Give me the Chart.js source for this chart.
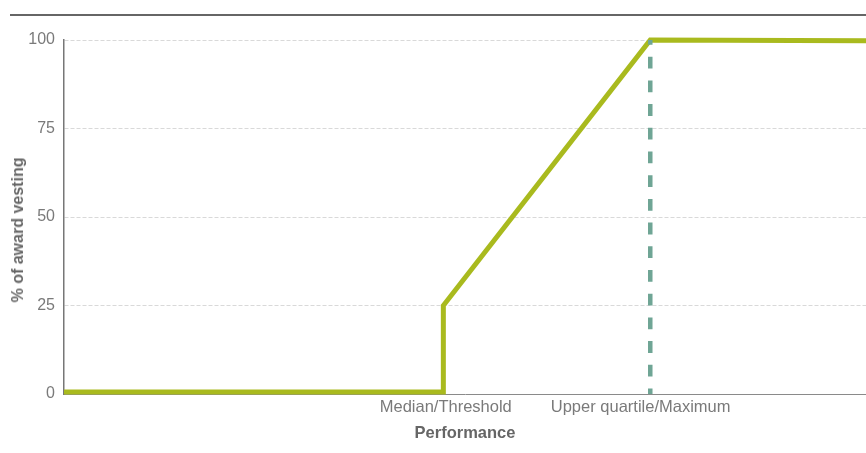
<!DOCTYPE html>
<html>
<head>
<meta charset="utf-8">
<script src="https://cdn.jsdelivr.net/npm/chart.js@4.4.1/dist/chart.umd.min.js"></script>
<style>
  html, body { margin: 0; padding: 0; background: #fff; }
  #wrap { position: relative; width: 866px; height: 453px; }
  #topRule { position: absolute; left: 10px; right: 0; top: 14px; height: 2px; background: #666; }
  #yTitle {
    position: absolute; left: 18px; top: 230px;
    transform: translate(-50%, -50%) rotate(-90deg);
    white-space: nowrap;
    font: bold 16px "Liberation Sans", Arial, sans-serif; color: #666;
  }
</style>
</head>
<body>
<div id="wrap">
  <div id="topRule"></div>
  <canvas id="vestingChart" width="866" height="453"></canvas>
  <div id="yTitle">% of award vesting</div>
</div>
<script>
// performance on a 0-100 scale (left edge to right edge of the plot)
const perfX = [0, 47.3, 47.3, 73.1, 100];
const vestingPct = [0.6, 0.6, 25, 100, 99.8];

const maxLineX = [73.1, 73.1];
const maxLineY = [100, 0];

const xTickValues = [47.6, 71.9];
const xTickLabels = ["Median/Threshold", "Upper quartile/Maximum"];
const yTicks = [0, 25, 50, 75, 100];

const font = "'Liberation Sans', Arial, sans-serif";

const vestingData = perfX.map((x, i) => ({ x: x, y: vestingPct[i] }));
const maxLineData = maxLineX.map((x, i) => ({ x: x, y: maxLineY[i] }));

new Chart(document.getElementById("vestingChart"), {
  type: "line",
  data: {
    datasets: [
      {
        label: "Upper quartile",
        data: maxLineData,
        borderColor: "#6fa595",
        borderWidth: 4.5,
        borderDash: [11.8, 11.9],
        borderDashOffset: 7,
        pointRadius: 0,
        clip: false,
      },
      {
        label: "Vesting",
        data: vestingData,
        borderColor: "#a9ba1e",
        borderWidth: 5,
        pointRadius: 0,
        tension: 0,
        clip: false,
      },
    ],
  },
  options: {
    responsive: false,
    animation: false,
    layout: { padding: { top: 40, right: 0, left: 0, bottom: 0 } },
    plugins: { legend: { display: false }, tooltip: { enabled: false } },
    scales: {
      x: {
        type: "linear",
        min: 0,
        max: 100,
        grid: { display: false, drawTicks: false },
        border: { display: true, color: "#8a8a8a", width: 1 },
        afterBuildTicks: (scale) => {
          scale.ticks = xTickValues.map((v) => ({ value: v }));
        },
        afterFit: (scale) => {
          scale.height = 59;
        },
        ticks: {
          autoSkip: false,
          maxRotation: 0,
          padding: 4,
          color: "#7a7a7a",
          font: { family: font, size: 16.5 },
          callback: (value, index) => xTickLabels[index],
        },
        title: {
          display: true,
          text: "Performance",
          color: "#666",
          font: { family: font, size: 16.5, weight: "bold" },
          padding: { top: 0, bottom: 10 },
        },
      },
      y: {
        min: 0,
        max: 100,
        afterBuildTicks: (scale) => {
          scale.ticks = yTicks.map((v) => ({ value: v }));
        },
        afterFit: (scale) => {
          scale.width = 64;
        },
        grid: {
          color: "#d9d9d9",
          lineWidth: 1,
          drawTicks: false,
        },
        // in v4, border.dash styles the grid lines
        border: { display: true, color: "#777", width: 1.5, dash: [4, 2] },
        ticks: {
          padding: 9,
          color: "#7a7a7a",
          font: { family: font, size: 16 },
        },
      },
    },
  },
});
</script>
</body>
</html>
